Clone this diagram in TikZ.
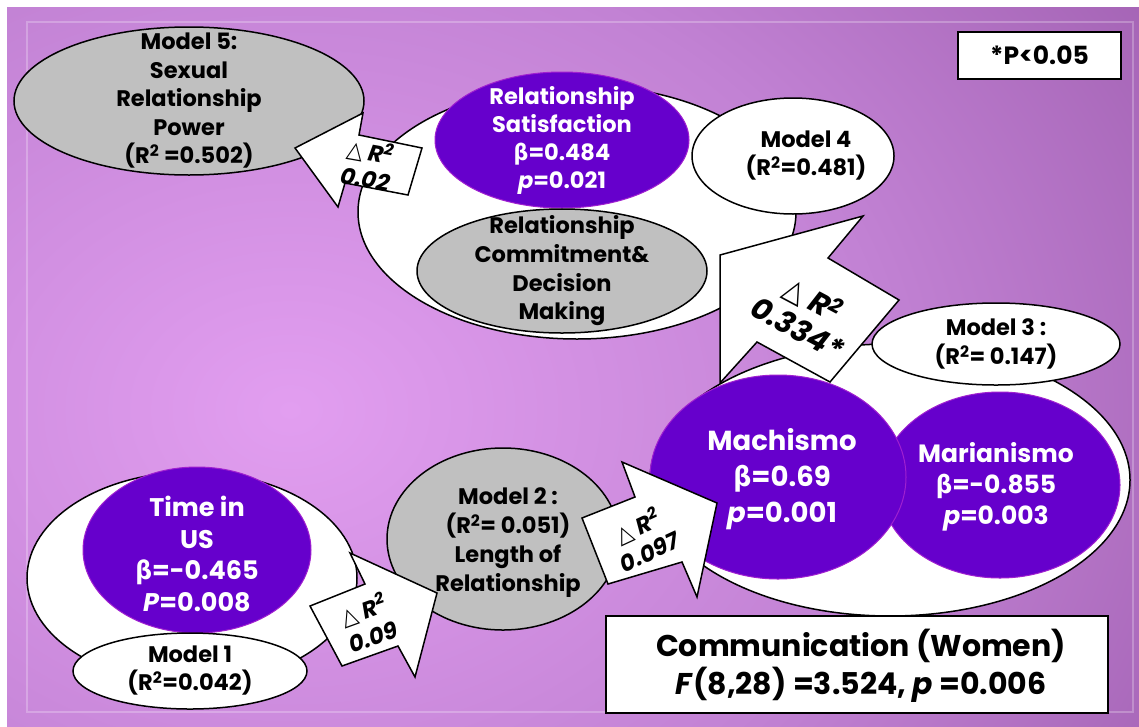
\documentclass[tikz,border=0pt]{standalone}
\usepackage{fontspec}
\setmainfont{Poppins}
\newfontfamily\grk{DejaVu Sans}[FakeStretch=0.92]
\usetikzlibrary{shapes.geometric}
\definecolor{pur}{HTML}{6600CC}
\definecolor{purline}{HTML}{A020D0}
\definecolor{gry}{HTML}{C0C0C0}
\definecolor{bgA}{HTML}{E29EF0}
\definecolor{bgB}{HTML}{C282D4}
\definecolor{bgC}{HTML}{9352A3}
\pgfdeclareradialshading{bgshade}{\pgfpoint{0bp}{0bp}}{color(0bp)=(bgA); color(12bp)=(bgB); color(25bp)=(bgC); color(50bp)=(bgC)}
\newcommand\bt{{\grk β}}
\newcommand\dl{{\grk\mdseries △}}
\newcommand\sq{\textsuperscript{2}}
\newcommand\fs[2]{\fontsize{#1}{#2}\selectfont\bfseries}
\begin{document}
\begin{tikzpicture}[x=1pt,y=-1pt,
  ell/.style={ellipse, draw=black, line width=1.5pt, inner sep=0pt},
  whiteell/.style={ell, fill=white},
  grayell/.style={ell, fill=gry},
  purell/.style={ellipse, draw=purline, line width=1pt, fill=pur, inner sep=0pt},
  blk/.style={align=center, text=black, inner sep=0pt},
  wht/.style={align=center, text=white, inner sep=0pt},
  arr/.style={draw=black, fill=white, line width=1.5pt, line join=miter},
  atxt/.style={align=center, text=black, inner sep=0pt}]
\useasboundingbox (0,0) rectangle (1139,726);
\fill[white] (0,0) rectangle (1139,726);
\begin{scope}
\clip (7,7) rectangle (1139,726);
\shade[shading=bgshade] (290,410) ellipse [x radius=1250, y radius=980];
\end{scope}
\draw[white, opacity=0.25, line width=1.5pt] (27,22) rectangle (1133,712);

% ---- Model 5 ----
\node[grayell, minimum width=350pt, minimum height=148pt] (m5) at (189,101) {};
\node[blk, font=\fs{22.5}{28.5}] (m5t) at (m5.center) {Model 5:\\Sexual\\Relationship\\Power\\(R\sq\ =0.502)};

% ---- Model 4 group ----
\node[whiteell, minimum width=438pt, minimum height=254pt] (g4) at (577,212) {};
\node[purell, minimum width=254pt, minimum height=136pt] (rs) at (562,140) {};
\node[wht, font=\fs{22.5}{28}] (rst) at (rs.center) {Relationship\\Satisfaction\\\bt=0.484\\\textit{p}=0.021};
\node[grayell, minimum width=290pt, minimum height=124pt] (rc) at (562,271) {};
\node[blk, font=\fs{22.5}{28.7}] (rct) at (rc.center) {Relationship\\Commitment\&\\Decision\\Making};

% ---- arrow 0.02 ----
\draw[arr] (295,148) -- (363,113) -- (359,135) -- (422,148) -- (408,195) -- (345,183) -- (338,207) -- cycle;
\node[atxt, rotate=-10, font=\fs{23}{27}\itshape] (a1) at (368,164) {\dl\ R\sq\\0.02};

% ---- Model 3 group ----
\node[whiteell, minimum width=480pt, minimum height=272pt] (g3) at (890,480) {};
\draw[arr] (720,255) -- (863,216) -- (828,258) -- (899,300) -- (830,382) -- (757,342) -- (720,383) -- cycle;
\node[atxt, rotate=-28, font=\fs{30}{33}\itshape] (a3) at (806,313) {\dl\ R\sq\\0.334*};
\node[purell, minimum width=240pt, minimum height=186pt] (mar) at (1000,485) {};
\node[purell, minimum width=256pt, minimum height=204pt] (mac) at (778,477) {};
\node[wht, font=\fs{27.5}{36}] (mact) at (782,479) {Machismo\\\bt=0.69\\\textit{p}=0.001};
\node[wht, font=\fs{25}{31}] (mart) at (996,487) {Marianismo\\\bt=-0.855\\\textit{p}=0.003};
\node[whiteell, minimum width=248pt, minimum height=82pt] (m3) at (996,344) {};
\node[blk, font=\fs{22.5}{29}] (m3t) at (m3.center) {Model 3 :\\(R\sq= 0.147)};

% ---- Model 4 ellipse ----
\node[whiteell, minimum width=202pt, minimum height=116pt] (m4) at (793,156) {};
\node[blk, font=\fs{22.5}{28}] (m4t) at (806,156) {Model 4\\(R\sq=0.481)};

% ---- Model 1 group ----
\node[whiteell, minimum width=330pt, minimum height=212pt] (g1) at (192,578) {};
\node[purell, minimum width=228pt, minimum height=166pt] (tus) at (197,550) {};
\node[wht, font=\fs{25.5}{31.5}] (tust) at (197,554) {Time in\\US\\\bt=-0.465\\\textit{P}=0.008};
\node[whiteell, minimum width=234pt, minimum height=76pt] (m1) at (190,671) {};
\node[blk, font=\fs{22.5}{28}] (m1t) at (m1.center) {Model 1\\(R\sq=0.042)};

% ---- Model 2 ----
\node[grayell, minimum width=232pt, minimum height=182pt] (m2) at (503,539) {};
\node[blk, font=\fs{22.5}{29}] (m2t) at (508,543) {Model 2 :\\(R\sq= 0.051)\\Length of\\Relationship};

% ---- arrow 0.09 ----
\draw[arr] (310,606) -- (365,584) -- (350,553) -- (437,593) -- (415,677) -- (398,646) -- (342,666) -- cycle;
\node[atxt, rotate=20, font=\fs{23}{28}\itshape] (a2) at (368,622) {\dl\ R\sq\\0.09};

% ---- arrow 0.097 ----
\draw[arr] (582,518) -- (635,497) -- (622,462) -- (717,503) -- (697,597) -- (682,562) -- (608,584) -- cycle;
\node[atxt, rotate=25, font=\fs{23}{28}\itshape] (a4) at (643,538) {\dl\ R\sq\\0.097};

% ---- boxes ----
\node[draw=black, line width=1.5pt, fill=white, minimum width=163pt, minimum height=47pt, inner sep=0pt] (pbox) at (1039.5,55.5) {};
\node[blk, font=\fs{25}{28}] (pboxt) at (pbox.center) {*P<0.05};
\node[draw=black, line width=1.5pt, fill=white, minimum width=502pt, minimum height=97pt, inner sep=0pt] (cbox) at (857,664.5) {};
\node[blk, font=\fs{30}{38}] (cboxt) at (861,666) {Communication (Women)\\\textit{F}(8,28) =3.524, \textit{p} =0.006};
\end{tikzpicture}
\end{document}
